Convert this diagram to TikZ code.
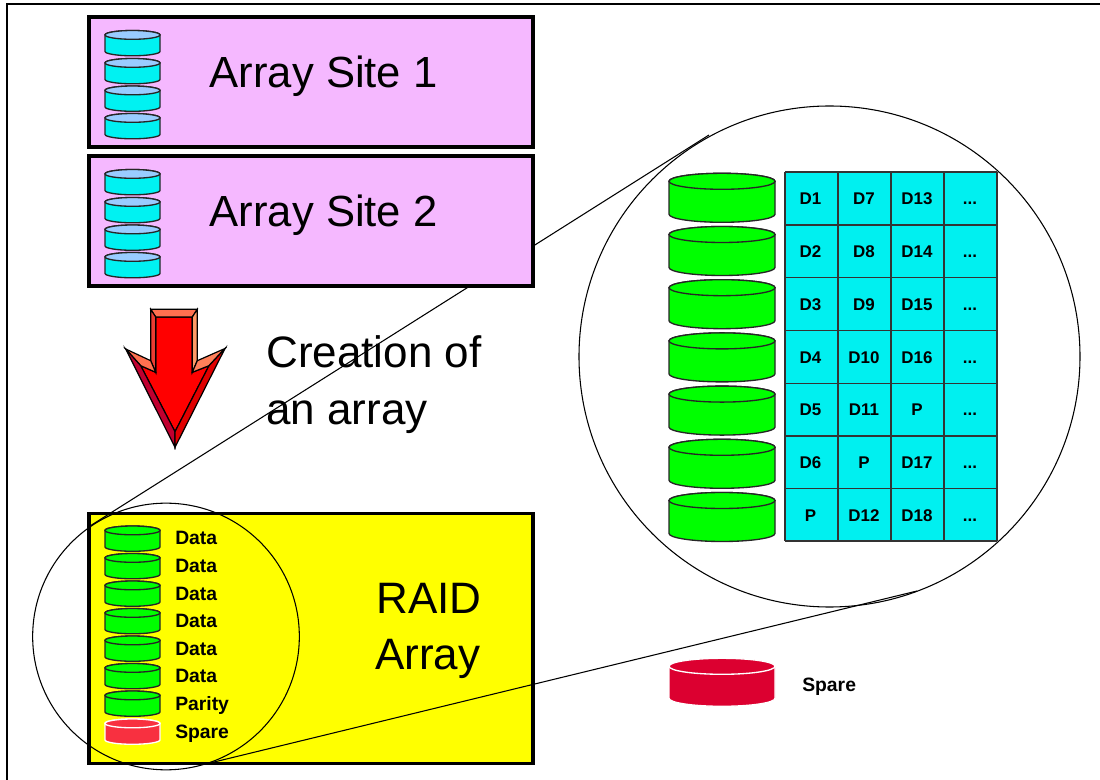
\documentclass[tikz,border=0pt]{standalone}
\usepackage{fontspec}
\setmainfont{Liberation Sans}
\definecolor{pinkbox}{HTML}{F5B8FF}
\definecolor{diskcyan}{HTML}{00F2F2}
\definecolor{disktop}{HTML}{99CCFF}
\definecolor{gridcyan}{HTML}{00F0F0}
\definecolor{redsmall}{HTML}{F83040}
\definecolor{redbig}{HTML}{DC0030}
\definecolor{pureyellow}{HTML}{FFFF00}
\definecolor{puregreen}{HTML}{00FF00}
\definecolor{purered}{HTML}{FF0000}
\tikzset{
  x=0.75pt,y=-0.75pt,
  box/.style={draw=black,line width=2.9pt,miter limit=10,inner sep=0pt,outer sep=0pt,anchor=north west,minimum width=333pt},
  bigtext/.style={font=\fontsize{33}{36}\selectfont,anchor=base west,inner sep=0pt,text=black},
  sitetext/.style={font=\fontsize{32.7}{36}\selectfont,anchor=base west,inner sep=0pt,text=black},
  smalllabel/.style={font=\fontsize{14.5}{16}\selectfont\bfseries,anchor=base west,inner sep=0pt,text=black},
  gridlabel/.style={font=\fontsize{12.7}{14}\selectfont\bfseries,anchor=base,inner sep=0pt,text=black},
  thin line/.style={draw=black,line width=0.8pt},
  arrowface/.style={draw=black,line width=0.9pt,line join=miter},
}
% \diskat{left}{right}{top}{ry}{height}{body}{top}{stroke}
\newcommand{\diskat}[8]{%
  \path[fill=#6,draw=#8,line width=1pt]
    (#1,#3+#4) -- (#1,#3+#4+#5)
    arc[start angle=180,end angle=0,x radius={(#2-#1)/2},y radius=#4]
    -- (#2,#3+#4)
    arc[start angle=0,end angle=-180,x radius={(#2-#1)/2},y radius=#4] -- cycle;
  \path[fill=#7,draw=#8,line width=1pt]
    ({(#1+#2)/2},#3+#4) ellipse[x radius={(#2-#1)/2},y radius=#4];
}
\begin{document}
\begin{tikzpicture}
\useasboundingbox (0,0) rectangle (1100,780);
\fill[white] (0,0) rectangle (1100,780);
% page frame
\coordinate (frameTL) at (7,4);
\coordinate (frameTR) at (1100,4);
\coordinate (frameBL) at (7,780);
\draw[line width=0.9pt] (frameBL) -- (frameTL) -- (frameTR);

% zoom lines
\coordinate (zoomA) at (709,135);
\coordinate (zoomB) at (90,526);
\coordinate (zoomC) at (917,591);
\coordinate (zoomD) at (210,763);

% boxes: the upper zoom line passes over the RAID box and behind Array Site 2
\node[box,fill=pinkbox,minimum height=97.5pt] (site1) at (89,17) {};
\node[box,fill=pureyellow,minimum height=187.5pt] (raid) at (89,513.5) {};
\draw[thin line] (zoomA) -- (zoomB);
\node[box,fill=pinkbox,minimum height=97.5pt] (site2) at (89,156) {};

\foreach \t in {30.5,58.5,86,113.5}{\diskat{105}{160}{\t}{4.4}{16.5}{diskcyan}{disktop}{black!85}}
\foreach \t in {169.5,197.5,225,252.5}{\diskat{105}{160}{\t}{4.4}{16.5}{diskcyan}{disktop}{black!85}}

\node[sitetext] (t1) at (209.5,88) {Array Site 1};
\node[sitetext] (t2) at (209.5,227) {Array Site 2};

% block arrow
\coordinate (aTL) at (150.7,309.3); \coordinate (aTR) at (197.3,309.3);
\coordinate (iTL) at (155.7,317);   \coordinate (iTR) at (192.3,317);
\coordinate (sL) at (150.7,360.7);  \coordinate (sR) at (197.3,360.7);
\coordinate (cL) at (155.7,372.3);  \coordinate (cR) at (192.3,372.3);
\coordinate (wL) at (125.7,349);    \coordinate (wR) at (225,348.5);
\coordinate (jL) at (140.7,365.7);  \coordinate (jR) at (209,365.7);
\coordinate (tip) at (175,447.3);   \coordinate (itip) at (175,431.7);
\path[arrowface,fill=purered] (iTL) -- (iTR) -- (cR) -- (jR) -- (itip) -- (jL) -- (cL) -- cycle;
\path[arrowface,fill={rgb,255:red,255;green,112;blue,80}] (aTL) -- (aTR) -- (iTR) -- (iTL) -- cycle;
\path[arrowface,fill={rgb,255:red,235;green,60;blue,50}] (aTL) -- (iTL) -- (cL) -- (sL) -- cycle;
\path[arrowface,fill={rgb,255:red,255;green,153;blue,102}] (aTR) -- (iTR) -- (cR) -- (sR) -- cycle;
\path[arrowface,fill={rgb,255:red,255;green,112;blue,80}] (wL) -- (sL) -- (cL) -- (jL) -- cycle;
\path[arrowface,fill={rgb,255:red,255;green,128;blue,90}] (wR) -- (sR) -- (cR) -- (jR) -- cycle;
\path[arrowface,fill={rgb,255:red,192;green,0;blue,48}] (wL) -- (jL) -- (itip) -- (tip) -- cycle;
\path[arrowface,fill={rgb,255:red,224;green,0;blue,0}] (wR) -- (jR) -- (itip) -- (tip) -- cycle;

\node[bigtext] (c1) at (266,368) {Creation of};
\node[bigtext] (c2) at (266,425) {an array};

% RAID array disks
\foreach \t in {526,553.5,581,608.5,636,663.5,691}{\diskat{105}{160}{\t}{4.4}{16.5}{puregreen}{puregreen}{black!85}}
\diskat{105}{160}{719}{4.4}{16.5}{redsmall}{redsmall}{white}
\foreach \n/\y/\s in {a/545/Data,b/572.5/Data,c/600/Data,d/627.5/Data,e/655/Data,f/682.5/Data,g/710/Parity,h/738/Spare}{
  \node[smalllabel] (lab\n) at (175,\y) {\s};
}
\node[bigtext] (r1) at (376,613) {RAID};
\node[bigtext] (r2) at (375,669.5) {Array};

% circles and lower zoom line
\node[draw=black,line width=0.8pt,circle,minimum size=200pt,inner sep=0pt] (small) at (166,636.5) {};
\node[draw=black,line width=0.8pt,circle,minimum size=375.75pt,inner sep=0pt] (large) at (829.5,356.5) {};
\draw[thin line] (zoomC) -- (zoomD);

% enlarged disks
\foreach \t in {173.3,226.5,279.7,332.9,386.1,439.3,492.5}{\diskat{669}{775}{\t}{8}{33}{puregreen}{puregreen}{black!85}}
\diskat{669}{775}{658.3}{8}{32}{redbig}{redbig}{white}
\node[smalllabel] (sparebig) at (802,691) {Spare};

% stripe grid
\fill[gridcyan] (785,172) rectangle (997,541);
\foreach \x in {785,838,891,944,997}{\draw[line width=0.8pt,draw=black!80] (\x,172) -- (\x,541);}
\foreach \y in {172,225,277.7,330.5,383.3,436,488.8,541}{\draw[line width=0.8pt,draw=black!80] (785,\y) -- (997,\y);}
\foreach \n/\x/\y/\s in {
  a1/810.5/205/D1, a2/810.5/258/D2, a3/810.5/311/D3, a4/810.5/363.5/D4, a5/810.5/416/D5, a6/810.5/469/D6, a7/810.5/522/P,
  b1/864/205/D7, b2/864/258/D8, b3/864/311/D9, b4/864/363.5/D10, b5/864/416/D11, b6/864/469/P, b7/864/522/D12,
  c1/917/205/D13, c2/917/258/D14, c3/917/311/D15, c4/917/363.5/D16, c5/917/416/P, c6/917/469/D17, c7/917/522/D18}{
  \node[gridlabel] (cell\n) at (\x,\y) {\s};
}
\foreach \n/\y in {1/205,2/258,3/311,4/363.5,5/416,6/469,7/522}{
  \node[gridlabel] (celld\n) at (970,\y) {{.}{.}{.}};
}
\end{tikzpicture}
\end{document}
